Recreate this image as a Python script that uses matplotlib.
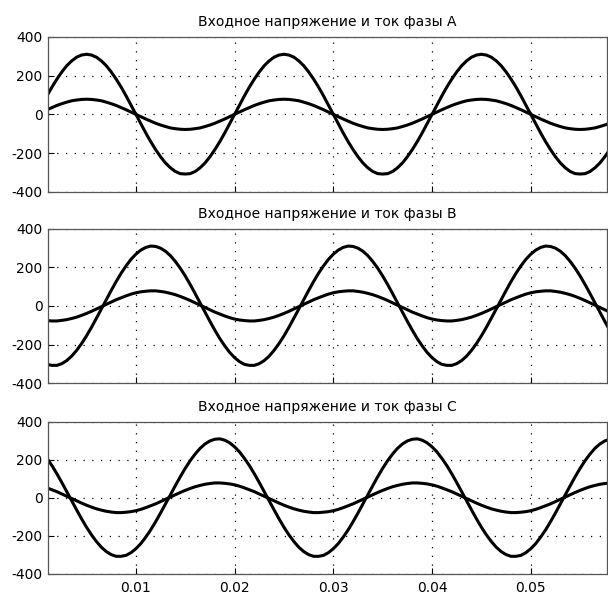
import matplotlib
matplotlib.use("Agg")
import matplotlib.pyplot as plt

plt.rcParams['font.family'] = ['DejaVu Sans']
plt.rcParams['axes.unicode_minus'] = False

# phase A voltage / current, sampled every 0.5 ms from t = 0
ua = [0, 48, 96, 141, 182, 219, 251, 276, 295, 306, 310, 306, 295, 276, 251, 219, 182, 141, 96, 48,
      0, -48, -96, -141, -182, -219, -251, -276, -295, -306, -308, -306, -295, -276, -251, -219, -182, -141, -96, -48,
      0, 48, 96, 141, 182, 219, 251, 276, 295, 306, 310, 306, 295, 276, 251, 219, 182, 141, 96, 48,
      0, -48, -96, -141, -182, -219, -251, -276, -295, -306, -308, -306, -295, -276, -251, -219, -182, -141, -96, -48,
      0, 48, 96, 141, 182, 219, 251, 276, 295, 306, 310, 306, 295, 276, 251, 219, 182, 141, 96, 48,
      0, -48, -96, -141, -182, -219, -251, -276, -295, -306, -308, -306, -295, -276, -251, -219, -182]
ia = [0, 12, 24, 35, 46, 55, 63, 70, 74, 77, 78, 77, 74, 70, 63, 55, 46, 35, 24, 12,
      0, -12, -24, -35, -46, -55, -63, -70, -74, -77, -78, -77, -74, -70, -63, -55, -46, -35, -24, -12,
      0, 12, 24, 35, 46, 55, 63, 70, 74, 77, 78, 77, 74, 70, 63, 55, 46, 35, 24, 12,
      0, -12, -24, -35, -46, -55, -63, -70, -74, -77, -78, -77, -74, -70, -63, -55, -46, -35, -24, -12,
      0, 12, 24, 35, 46, 55, 63, 70, 74, 77, 78, 77, 74, 70, 63, 55, 46, 35, 24, 12,
      0, -12, -24, -35, -46, -55, -63, -70, -74, -77, -78, -77, -74, -70, -63, -55, -46]
# phase B
ub = [-268, -289, -303, -308, -308, -299, -283, -260, -230, -195, -155, -111, -64, -16, 32, 80, 126, 169, 207, 241,
      268, 289, 303, 310, 308, 299, 283, 260, 230, 195, 155, 111, 64, 16, -32, -80, -126, -169, -207, -241,
      -268, -289, -303, -308, -308, -299, -283, -260, -230, -195, -155, -111, -64, -16, 32, 80, 126, 169, 207, 241,
      268, 289, 303, 310, 308, 299, 283, 260, 230, 195, 155, 111, 64, 16, -32, -80, -126, -169, -207, -241,
      -268, -289, -303, -308, -308, -299, -283, -260, -230, -195, -155, -111, -64, -16, 32, 80, 126, 169, 207, 241,
      268, 289, 303, 310, 308, 299, 283, 260, 230, 195, 155, 111, 64, 16, -32, -80, -126]
ib = [-68, -73, -76, -78, -78, -75, -71, -65, -58, -49, -39, -28, -16, -4, 8, 20, 32, 42, 52, 61,
      68, 73, 76, 78, 78, 75, 71, 65, 58, 49, 39, 28, 16, 4, -8, -20, -32, -42, -52, -61,
      -68, -73, -76, -78, -78, -75, -71, -65, -58, -49, -39, -28, -16, -4, 8, 20, 32, 42, 52, 61,
      68, 73, 76, 78, 78, 75, 71, 65, 58, 49, 39, 28, 16, 4, -8, -20, -32, -42, -52, -61,
      -68, -73, -76, -78, -78, -75, -71, -65, -58, -49, -39, -28, -16, -4, 8, 20, 32, 42, 52, 61,
      68, 73, 76, 78, 78, 75, 71, 65, 58, 49, 39, 28, 16, 4, -8, -20, -32]
# phase C
uc = [268, 241, 207, 169, 126, 80, 32, -16, -64, -111, -155, -195, -230, -260, -283, -299, -308, -308, -303, -289,
      -268, -241, -207, -169, -126, -80, -32, 16, 64, 111, 155, 195, 230, 260, 283, 299, 308, 310, 303, 289,
      268, 241, 207, 169, 126, 80, 32, -16, -64, -111, -155, -195, -230, -260, -283, -299, -308, -308, -303, -289,
      -268, -241, -207, -169, -126, -80, -32, 16, 64, 111, 155, 195, 230, 260, 283, 299, 308, 310, 303, 289,
      268, 241, 207, 169, 126, 80, 32, -16, -64, -111, -155, -195, -230, -260, -283, -299, -308, -308, -303, -289,
      -268, -241, -207, -169, -126, -80, -32, 16, 64, 111, 155, 195, 230, 260, 283, 299, 308]
ic = [68, 61, 52, 42, 32, 20, 8, -4, -16, -28, -39, -49, -58, -65, -71, -75, -78, -78, -76, -73,
      -68, -61, -52, -42, -32, -20, -8, 4, 16, 28, 39, 49, 58, 65, 71, 75, 78, 78, 76, 73,
      68, 61, 52, 42, 32, 20, 8, -4, -16, -28, -39, -49, -58, -65, -71, -75, -78, -78, -76, -73,
      -68, -61, -52, -42, -32, -20, -8, 4, 16, 28, 39, 49, 58, 65, 71, 75, 78, 78, 76, 73,
      68, 61, 52, 42, 32, 20, 8, -4, -16, -28, -39, -49, -58, -65, -71, -75, -78, -78, -76, -73,
      -68, -61, -52, -42, -32, -20, -8, 4, 16, 28, 39, 49, 58, 65, 71, 75, 78]

dt = 0.0005
titles = ["Входное напряжение и ток фазы A",
          "Входное напряжение и ток фазы B",
          "Входное напряжение и ток фазы C"]
xticks = [0.01, 0.02, 0.03, 0.04, 0.05]
xticklabels = ["0.01", "0.02", "0.03", "0.04", "0.05"]
yticks = [-400, -200, 0, 200, 400]
yticklabels = ["-400", "-200", "0", "200", "400"]

fig = plt.figure(figsize=(6.08, 5.94), dpi=100)
positions = [[0.079, 0.677, 0.919, 0.261],
             [0.079, 0.355, 0.919, 0.260],
             [0.079, 0.034, 0.919, 0.256]]
series = [(ua, ia), (ub, ib), (uc, ic)]

for k, (pos, (u, i), title) in enumerate(zip(positions, series, titles)):
    ax = fig.add_axes(pos)
    tu = [n * dt for n in range(len(u))]
    ti = [n * dt for n in range(len(i))]
    ax.plot(tu, u, color='black', lw=2.2, solid_joinstyle='round')
    ax.plot(ti, i, color='black', lw=2.2, solid_joinstyle='round')
    ax.set_xlim(0.0011, 0.0577)
    ax.set_ylim(-400, 400)
    ax.set_yticks(yticks)
    ax.set_yticklabels(yticklabels, fontsize=10)
    ax.set_xticks(xticks)
    if k == 2:
        ax.set_xticklabels(xticklabels, fontsize=10)
    else:
        ax.set_xticklabels([])
    ax.tick_params(direction='in', length=4, width=0.8, colors='black')
    ax.tick_params(axis='x', pad=5)
    ax.tick_params(axis='y', pad=4)
    ax.grid(True, color='black', linestyle=(0, (1, 6)), linewidth=0.9)
    for s in ax.spines.values():
        s.set_color('#555555')
        s.set_linewidth(0.9)
    ax.set_title(title, fontsize=10, pad=8)

fig.savefig("out.png", dpi=100)
